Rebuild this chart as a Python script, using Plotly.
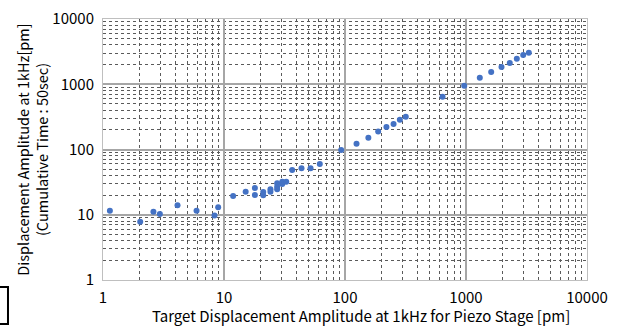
import plotly.graph_objects as go

# Target displacement amplitude [pm]
target_pm = [1.14, 2.03, 2.61, 2.95, 4.13, 5.93, 8.35, 8.95,
             11.9, 15.1, 18.0, 18.0, 21.1, 21.1, 24.2, 24.2,
             27.5, 27.5, 27.5, 30.3, 30.3, 32.7, 36.6, 43.7, 51.9, 61.9,
             93, 124.5, 156, 188, 220, 252, 284, 318,
             640, 967, 1300, 1615, 1965, 2300, 2630, 2970, 3305]
# Measured displacement amplitude [pm]
measured_pm = [11.5, 7.8, 11.1, 10.3, 14.0, 11.5, 9.7, 13.0,
               19.4, 22.6, 25.7, 20.1, 22.3, 19.9, 24.5, 22.6,
               30.3, 26.9, 24.5, 32.1, 29.6, 32.1, 48.5, 51.5, 51.5, 60,
               98, 123, 152, 188, 221, 246, 286, 318,
               645, 950, 1260, 1540, 1840, 2120, 2465, 2806, 3050]

tick_vals = [1, 10, 100, 1000, 10000]
tick_text = ["1", "10", "100", "1000", "10000"]

FONT = "Noto Sans CJK JP"

fig = go.Figure()
fig.add_trace(go.Scatter(
    x=target_pm, y=measured_pm, mode="markers",
    marker=dict(color="#4472C4", size=6),
    showlegend=False,
))

axis_common = dict(
    type="log",
    range=[0, 4],
    tickvals=tick_vals,
    ticktext=tick_text,
    showgrid=True,
    gridcolor="#a6a6a6",
    gridwidth=1.5,
    showline=True,
    linecolor="#bfbfbf",
    linewidth=1,
    mirror=True,
    ticks="",
    zeroline=False,
    automargin=False,
    tickfont=dict(family=FONT, size=15, color="#000"),
    minor=dict(dtick="D1", showgrid=True, gridcolor="#5a5a5a",
               griddash="dot", gridwidth=1, ticks=""),
)

fig.update_xaxes(**axis_common, ticklabelstandoff=4)
fig.update_yaxes(**axis_common, ticklabelstandoff=5,
                 title=dict(text="Displacement Amplitude at 1kHz[pm]<br>(Cumulative Time : 50sec)",
                            font=dict(family=FONT, size=14.5, color="#000"),
                            standoff=0))

fig.add_annotation(text="Target Displacement Amplitude at 1kHz for Piezo Stage [pm]",
                   xref="paper", yref="paper", x=0.534, y=-0.137,
                   xanchor="center", yanchor="middle", showarrow=False,
                   font=dict(family=FONT, size=15, color="#000"))

# partially visible box at bottom-left corner
fig.add_shape(type="rect", xref="paper", yref="paper",
              x0=-0.26, x1=-0.1963, y0=-0.1686, y1=-0.0268,
              line=dict(color="#000", width=2), fillcolor="rgba(0,0,0,0)")

fig.update_layout(
    width=624, height=327,
    margin=dict(l=103, r=37, t=19, b=47),
    paper_bgcolor="white", plot_bgcolor="white",
    font=dict(family=FONT),
)

fig.write_html("out.html", config={"displayModeBar": False},
               post_script="document.body.style.margin='0';")
